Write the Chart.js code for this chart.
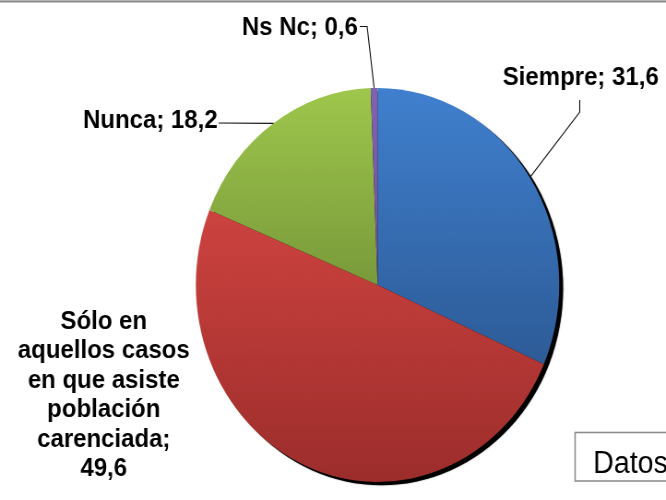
<!DOCTYPE html>
<html><head><meta charset="utf-8">
<script src="https://cdn.jsdelivr.net/npm/chart.js@4/dist/chart.umd.min.js"></script>
<style>
html,body{margin:0;padding:0;background:#fff;overflow:hidden;}
#wrap{width:666px;height:500px;overflow:hidden;position:relative;background:#fff;}
#c{position:absolute;left:0;top:0;width:722px;height:500px;transform:scaleX(0.9224);transform-origin:0 0;}
</style></head><body>
<div id="wrap"><canvas id="c" width="722" height="500"></canvas></div>
<script>
// ---- data ----
const categories = ['Siempre', 'Sólo en aquellos casos en que asiste población carenciada', 'Nunca', 'Ns Nc'];
const values = [31.6, 49.6, 18.2, 0.6];
const valueLabels = ['31,6', '49,6', '18,2', '0,6'];

// ---- styles ----
const gradTop = ['#4080CE', '#CD4340', '#9EC74C', '#8263B0'];
const gradBottom = ['#2D5B97', '#9C2D2B', '#7A9A3B', '#6F519C'];
const R = 197;
const FONT = '"Liberation Sans", Arial, sans-serif';

function sliceAngles(i) {
  const total = values.reduce((a, b) => a + b, 0);
  let cum = 0;
  for (let k = 0; k < i; k++) cum += values[k];
  const a0 = -Math.PI / 2 + cum / total * 2 * Math.PI;
  const a1 = a0 + values[i] / total * 2 * Math.PI;
  return [a0, a1];
}

function bg(ctx) {
  const chart = ctx.chart;
  const ca = chart.chartArea;
  const i = ctx.dataIndex;
  if (!ca) return gradTop[i];
  const cy = (ca.top + ca.bottom) / 2;
  const [a0, a1] = sliceAngles(i);
  let ymin = cy, ymax = cy;
  for (let t = 0; t <= 100; t++) {
    const a = a0 + (a1 - a0) * t / 100;
    const y = cy + R * Math.sin(a);
    ymin = Math.min(ymin, y); ymax = Math.max(ymax, y);
  }
  if (ymax - ymin < 2) ymax = ymin + 2;
  const g = chart.ctx.createLinearGradient(0, ymin, 0, ymax);
  g.addColorStop(0, gradTop[i]);
  g.addColorStop(1, gradBottom[i]);
  return g;
}

function arcPoint(chart, i, extra) {
  const ca = chart.chartArea;
  const cx = (ca.left + ca.right) / 2, cy = (ca.top + ca.bottom) / 2;
  const [a0, a1] = sliceAngles(i);
  const a = (a0 + a1) / 2;
  return [cx + (R + extra) * Math.cos(a), cy + (R + extra) * Math.sin(a)];
}

const shadowPlugin = {
  id: 'shadow',
  beforeDatasetsDraw(chart) {
    const ca = chart.chartArea;
    const cx = (ca.left + ca.right) / 2, cy = (ca.top + ca.bottom) / 2;
    const c = chart.ctx;
    c.save();
    c.shadowColor = 'rgba(0,0,0,0.6)';
    c.shadowBlur = 1.5;
    c.fillStyle = '#000';
    c.beginPath();
    c.arc(cx + 4.2, cy + 3.4, R, 0, Math.PI * 2);
    c.fill();
    c.restore();
  }
};

const labelPlugin = {
  id: 'labels',
  afterDraw(chart) {
    const c = chart.ctx;
    c.save();
    // top frame line
    c.fillStyle = '#b4b4b4'; c.fillRect(0, 0, 722, 1);
    c.fillStyle = '#8a8a8a'; c.fillRect(0, 1, 722, 1.5);

    c.strokeStyle = '#111'; c.lineWidth = 1.1;
    c.fillStyle = '#000';
    c.font = 'bold 26px ' + FONT;
    c.textBaseline = 'alphabetic';

    // Ns Nc
    c.textAlign = 'right';
    c.fillText(categories[3] + '; ' + valueLabels[3], 388, 35);
    let p = arcPoint(chart, 3, 0);
    c.beginPath(); c.moveTo(390, 26.5); c.lineTo(398, 26.5); c.lineTo(p[0], p[1]); c.stroke();

    // Siempre
    c.textAlign = 'left';
    c.fillText(categories[0] + '; ' + valueLabels[0], 545, 85);
    p = arcPoint(chart, 0, 1);
    c.beginPath(); c.moveTo(628.5, 100); c.lineTo(628.5, 112); c.lineTo(p[0], p[1]); c.stroke();

    // Nunca
    c.textAlign = 'left';
    c.fillText(categories[2] + '; ' + valueLabels[2], 90, 128);
    p = arcPoint(chart, 2, 0);
    c.beginPath(); c.moveTo(237, 123); c.lineTo(p[0], p[1]); c.stroke();

    // Sólo en ... (multi-line)
    c.textAlign = 'center';
    const lines = ['Sólo en', 'aquellos casos', 'en que asiste', 'población', 'carenciada;', valueLabels[1]];
    lines.forEach((t, k) => c.fillText(t, 112.5, 329 + k * 29.4));

    // Datos box
    c.strokeStyle = '#8c8c8c'; c.lineWidth = 1.6;
    c.strokeRect(623.5, 432.5, 120, 48.5);
    c.fillStyle = '#000';
    c.font = '31px ' + FONT;
    c.textAlign = 'left';
    c.fillText('Datos', 643, 473);
    c.restore();
  }
};

new Chart(document.getElementById('c'), {
  type: 'pie',
  data: {
    labels: categories,
    datasets: [{
      data: values,
      backgroundColor: bg,
      borderWidth: 0,
      hoverOffset: 0,
      offset: 0,
      spacing: 0
    }]
  },
  options: {
    responsive: false,
    animation: false,
    events: [],
    radius: R,
    layout: { padding: { left: 212.3, right: 115.7, top: 88, bottom: 18.2 } },
    plugins: { legend: { display: false }, tooltip: { enabled: false } }
  },
  plugins: [shadowPlugin, labelPlugin]
});
</script>
</body></html>
